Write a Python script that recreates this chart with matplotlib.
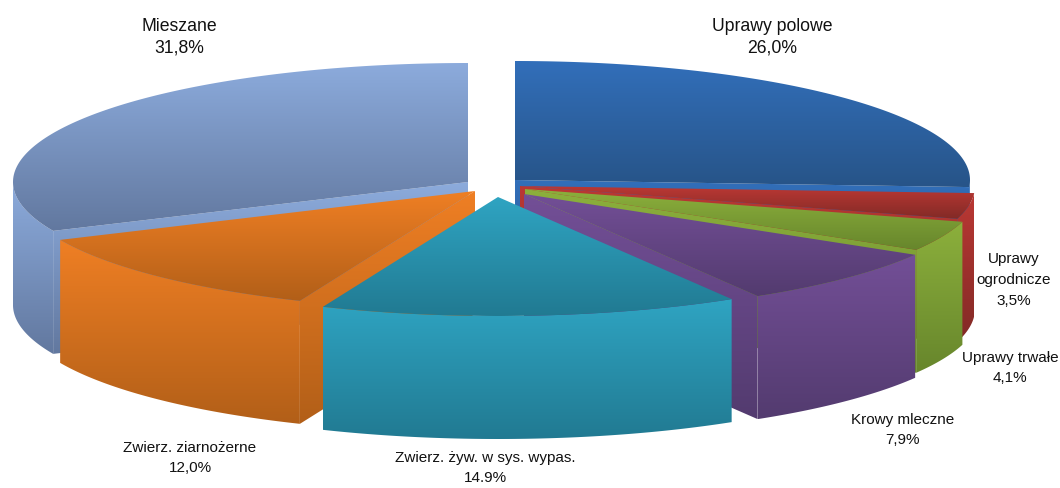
#rozbity wykres kolowy 3D: udzial typow gospodarstw

import matplotlib
matplotlib.use('Agg')
import matplotlib.pyplot as plt
import numpy as np
from matplotlib.patches import Polygon

names=['Uprawy polowe','Uprawy\nogrodnicze','Uprawy trwałe','Krowy mleczne',
       'Zwierz. żyw. w sys. wypas.','Zwierz. ziarnożerne','Mieszane']
values=[26.0,3.5,4.1,7.9,14.9,12.0,31.8]
value_labels=['26,0%','3,5%','4,1%','7,9%','14.9%','12,0%','31,8%']

plt.rcParams['font.family']=['Liberation Sans','DejaVu Sans']

#geometria w pikselach obrazka
rx=455
ry=119
depth=123
apex=[(515,181),(520,187),(525,190),(524,195),(498,198),(475,192),(468,183)]
label_pos=[(772,37),(1014,280),(1010,368),(903,430),(485,468),(190,458),(179,37)]
label_size=[12.7,11,11,11,11,11,12.7]
label_gap=[1.35,1.6,1.6,1.6,1.6,1.6,1.35]

light=['#326fba','#bb3834','#8cb03c','#734f97','#2fa4c2','#ef7f24','#8cabdc']
dark=['#275488','#822a26','#67862c','#533b6f','#217a92','#b25f18','#62789f']

fig=plt.figure(figsize=(10.6,4.89),dpi=100)
ax=fig.add_axes([0,0,1,1])


def rgb(c):
    return np.array(matplotlib.colors.to_rgb(c))


def gradient_poly(pts,c1,c2,z):
    pts=np.array(pts)
    y0,y1=pts[:,1].min(),pts[:,1].max()
    x0,x1=pts[:,0].min(),pts[:,0].max()
    t=np.linspace(0,1,128)[:,None,None]
    img=rgb(c1)[None,None,:]*(1-t)+rgb(c2)[None,None,:]*t
    im=ax.imshow(img,extent=(x0,x1,y1,y0),origin='upper',aspect='auto',zorder=z,interpolation='bilinear')
    patch=Polygon(pts,closed=True,transform=ax.transData)
    im.set_clip_path(patch)


def rim(i,t0,t1):
    t=np.radians(np.linspace(t0,t1,120))
    return np.column_stack([apex[i][0]+rx*np.sin(t),apex[i][1]-ry*np.cos(t)])


def wall(i,t,c1,c2,z):
    p=rim(i,t,t)[0]
    a=apex[i]
    gradient_poly([a,p,(p[0],p[1]+depth),(a[0],a[1]+depth)],c1,c2,z)


edges=np.cumsum([0]+values)/sum(values)*360
order=[6,0,1,2,3,5,4]  #od tylu do przodu

z=1
for i in order:
    t0,t1=edges[i],edges[i+1]
    #sciany promieniowe widoczne od strony widza
    if np.sin(np.radians(t0))<0:
        wall(i,t0,light[i],dark[i],z)
    if np.sin(np.radians(t1))>0:
        wall(i,t1,light[i],dark[i],z)
    #sciana zewnetrzna tylko na przedniej polowie
    s0,s1=max(t0,90),min(t1,270)
    if s1>s0:
        r=rim(i,s0,s1)
        low=r+[0,depth]
        gradient_poly(np.vstack([r,low[::-1]]),light[i],dark[i],z+1)
    #gorna powierzchnia
    gradient_poly(np.vstack([[apex[i]],rim(i,t0,t1)]),light[i],dark[i],z+2)
    z+=3

for i in range(len(names)):
    ax.text(label_pos[i][0],label_pos[i][1],names[i]+'\n'+value_labels[i],ha='center',va='center',
            fontsize=label_size[i],linespacing=label_gap[i],color='#111111',zorder=50)

ax.set_xlim(0,1060)
ax.set_ylim(489,0)
ax.axis('off')

fig.savefig('out.png',dpi=100)
